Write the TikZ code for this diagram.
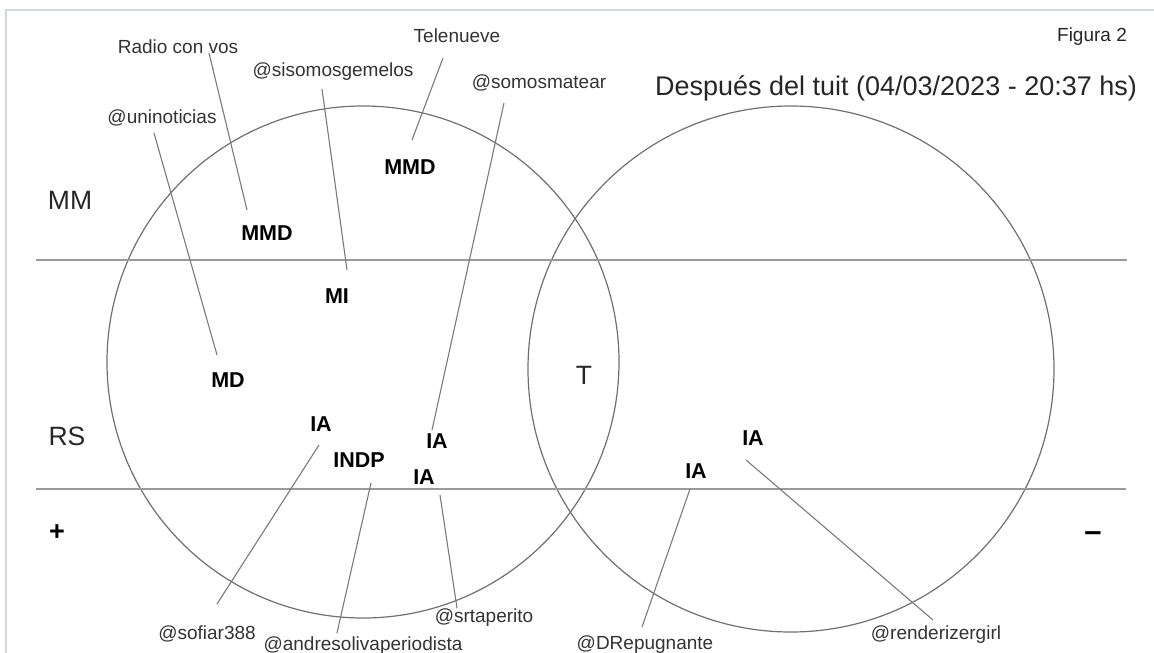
\documentclass[tikz,border=0pt]{standalone}
\usepackage{fontspec}
\setmainfont{Liberation Sans}
\usepackage{tikz}

\definecolor{ringgray}{HTML}{707070}
\definecolor{rulegray}{HTML}{9A9A9A}
\definecolor{leadgray}{HTML}{7A7A7A}
\definecolor{framegray}{HTML}{D4D8DC}

\begin{document}
\begin{tikzpicture}[
  x=1pt, y=-1pt,
  every node/.style={inner sep=0pt, anchor=base},
  tag/.style = {font=\fontsize{21.5}{24}\selectfont\bfseries, yshift=-7.7pt},
  handle/.style = {font=\fontsize{19}{22}\selectfont, text=black!80, yshift=-6.8pt},
  zone/.style = {font=\fontsize{26.5}{30}\selectfont, text=black!85, yshift=-9.5pt},
  sign/.style = {font=\fontsize{27}{30}\selectfont\bfseries, yshift=-9pt},
  leader/.style = {draw=leadgray, line width=1.1pt},
  ring/.style = {draw=ringgray, line width=1.2pt},
  band/.style = {draw=rulegray, line width=1.6pt}
  ]
	\useasboundingbox (0,0) rectangle (1154,653);
	\draw[framegray, line width=1.6pt] (6,653) -- (6,10) -- (1154,10);

	\draw[ring] (363,362) circle[radius=256];
	\draw[ring] (791,369) circle[radius=263];

	\draw[band] (36,260) -- (1127,260);
	\draw[band] (36,489) -- (1126,489);

	\node[zone] (mm) at (70,200) {MM};
	\node[zone] (rs) at (67,436) {RS};
	\node[zone] (t) at (584,375) {T};
	\node[sign] (plus) at (57,531) {+};
	\node[sign, font=\fontsize{31}{34}\selectfont\bfseries] (minus) at (1093,532) {--};
	\node[handle, text=black!85] (figura) at (1092,35) {Figura 2};
	\node[font=\fontsize{27}{31}\selectfont, text=black!85, yshift=-9.7pt] (titulo) at (896,86) {Después del tuit (04/03/2023 - 20:37 hs)};

	\node[tag] (mmd1) at (267,233) {MMD};
	\node[tag] (mmd2) at (410,167) {MMD};
	\node[tag] (mi) at (337,296) {MI};
	\node[tag] (md) at (228,380) {MD};
	\node[tag] (ia1) at (321,424) {IA};
	\node[tag] (indp) at (359,460) {INDP};
	\node[tag] (ia2) at (437,441) {IA};
	\node[tag] (ia3) at (424,477) {IA};
	\node[tag] (ia4) at (753,438) {IA};
	\node[tag] (ia5) at (696,471) {IA};

	\node[handle] (radio) at (178,47) {Radio con vos};
	\node[handle] (sisomos) at (333,70) {@sisomosgemelos};
	\node[handle] (telenueve) at (457,36) {Telenueve};
	\node[handle] (somosmatear) at (539,82) {@somosmatear};
	\node[handle] (uninoticias) at (162,117) {@uninoticias};
	\node[handle] (sofiar) at (207,633) {@sofiar388};
	\node[handle] (andres) at (363,644) {@andresolivaperiodista};
	\node[handle] (srtaperito) at (484,616) {@srtaperito};
	\node[handle] (drepugnante) at (645,643) {@DRepugnante};
	\node[handle] (renderizer) at (936,633) {@renderizergirl};

	% leader ends
	\coordinate (@rad1) at (209,53);  \coordinate (@rad2) at (247,210);
	\coordinate (@uni1) at (154,133); \coordinate (@uni2) at (217,355);
	\coordinate (@sis1) at (322,89);  \coordinate (@sis2) at (347,270);
	\coordinate (@tel1) at (443,58);  \coordinate (@tel2) at (412,140);
	\coordinate (@som1) at (504,103); \coordinate (@som2) at (432,430);
	\coordinate (@sof1) at (319,445); \coordinate (@sof2) at (217,604);
	\coordinate (@and1) at (371,483); \coordinate (@and2) at (337,633);
	\coordinate (@srt1) at (440,495); \coordinate (@srt2) at (457,608);
	\coordinate (@drp1) at (690,489); \coordinate (@drp2) at (642,627);
	\coordinate (@ren1) at (746,460); \coordinate (@ren2) at (933,620);

	\draw[leader] (@rad1) -- (@rad2);
	\draw[leader] (@uni1) -- (@uni2);
	\draw[leader] (@sis1) -- (@sis2);
	\draw[leader] (@tel1) -- (@tel2);
	\draw[leader] (@som1) -- (@som2);
	\draw[leader] (@sof1) -- (@sof2);
	\draw[leader] (@and1) -- (@and2);
	\draw[leader] (@srt1) -- (@srt2);
	\draw[leader] (@drp1) -- (@drp2);
	\draw[leader] (@ren1) -- (@ren2);

\end{tikzpicture}
\end{document}
